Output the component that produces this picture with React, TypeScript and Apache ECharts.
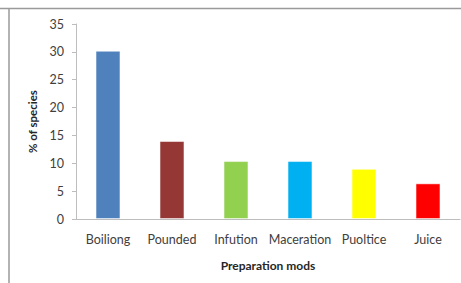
import React, { useEffect, useRef } from "react";
import * as echarts from "echarts";

const categories = ["Boiliong", "Pounded", "Infution", "Maceration", "Puoltice", "Juice"];
const values = [30.2, 14, 10.4, 10.4, 9, 6.4];
const barColors = ["#4F81BD", "#953735", "#92D050", "#00B0F0", "#FFFF00", "#FF0000"];
const yTitle = "% of species";
const xTitle = "Preparation mods";

export default function App() {
  const ref = useRef<HTMLDivElement>(null);
  useEffect(() => {
    const chart = echarts.init(ref.current!, null, { renderer: "svg" });
    const font = "Lato, 'Open Sans', sans-serif";
    chart.setOption({
      animation: false,
      backgroundColor: "#ffffff",
      textStyle: { fontFamily: font },
      grid: { left: 76, right: 1, top: 24, bottom: 64, containLabel: false },
      graphic: [
        { type: "line", shape: { x1: 0, y1: 8.5, x2: 461, y2: 8.5 }, style: { stroke: "#9a9a9a", lineWidth: 1.5 } },
        { type: "line", shape: { x1: 9, y1: 8.5, x2: 9, y2: 283 }, style: { stroke: "#9a9a9a", lineWidth: 1.5 } },
      ],
      xAxis: {
        type: "category",
        data: categories,
        name: xTitle,
        nameLocation: "middle",
        nameGap: 40,
        nameTextStyle: { fontFamily: font, fontWeight: "bold", fontSize: 12, color: "#262626" },
        axisLine: { lineStyle: { color: "#bdbdbd", width: 1 } },
        axisTick: { show: false },
        axisLabel: { interval: 0, fontFamily: font, fontSize: 12.5, color: "#404040", margin: 14 },
      },
      yAxis: {
        type: "value",
        min: 0,
        max: 35,
        interval: 5,
        name: yTitle,
        nameLocation: "middle",
        nameGap: 36,
        nameRotate: 90,
        nameTextStyle: { fontFamily: font, fontWeight: "bold", fontSize: 11.5, color: "#262626" },
        axisLine: { show: true, lineStyle: { color: "#bdbdbd", width: 1 } },
        axisTick: { show: true, inside: false, length: 4, lineStyle: { color: "#bdbdbd" } },
        splitLine: { show: false },
        axisLabel: { fontFamily: font, fontSize: 12.5, color: "#404040", margin: 12 },
      },
      series: [
        {
          type: "bar",
          data: values.map((v, i) => ({ value: v, itemStyle: { color: barColors[i] } })),
          barWidth: "39%",
          itemStyle: { borderColor: "rgba(255,255,255,0.5)", borderWidth: 1 },
        },
      ],
    });
    return () => chart.dispose();
  }, []);
  return (
    <div
      ref={ref}
      style={{ position: "fixed", left: 0, top: 0, width: 461, height: 283 }}
    />
  );
}
